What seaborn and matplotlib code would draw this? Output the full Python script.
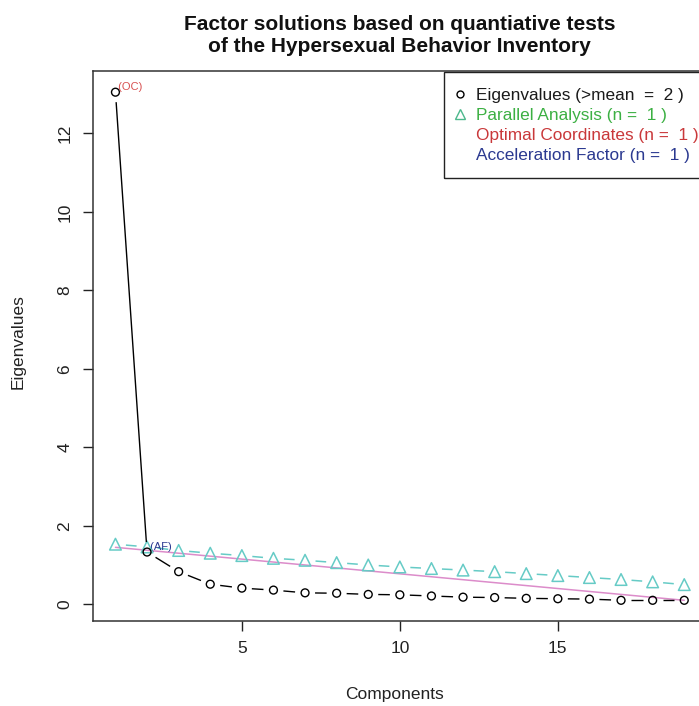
import numpy as np
import matplotlib
matplotlib.use("Agg")
import matplotlib.pyplot as plt
import seaborn as sns
from matplotlib.lines import Line2D
from matplotlib.collections import LineCollection
from matplotlib.patches import Rectangle

# ---- data ----
components = list(range(1, 20))
eigenvalues = [13.05, 1.33, 0.83, 0.51, 0.41, 0.36, 0.29, 0.28, 0.25, 0.24,
               0.21, 0.18, 0.17, 0.15, 0.14, 0.13, 0.10, 0.10, 0.10]
parallel = [1.53, 1.46, 1.37, 1.30, 1.24, 1.17, 1.12, 1.06, 1.00, 0.95,
            0.91, 0.87, 0.83, 0.78, 0.73, 0.68, 0.63, 0.57, 0.50]
oc_line_x = [1, 19]
oc_line_y = [1.45, 0.10]
x_ticks = [5, 10, 15]
y_ticks = [0, 2, 4, 6, 8, 10, 12]
legend_labels = ["Eigenvalues (>mean  =  2 )",
                 "Parallel Analysis (n =  1 )",
                 "Optimal Coordinates (n =  1 )",
                 "Acceleration Factor (n =  1 )"]
title = "Factor solutions based on quantiative tests\nof the Hypersexual Behavior Inventory"

# ---- style ----
sns.set_style("ticks")
plt.rcParams['font.family'] = ['Liberation Sans', 'DejaVu Sans']

C_EIG = "black"
C_PA = "#66cbc6"
C_PA_LEG = "#4cb88c"
C_OC = "#dc8cca"
TXT_COLORS = ["#1a1a1a", "#3cb043", "#c9383a", "#2b3990"]

W, H = 699, 706
fig = plt.figure(figsize=(W / 100, H / 100), dpi=100)
ax = fig.add_axes([92.7 / W, 85.3 / H, 614.3 / W, 549.7 / H])
ax.set_xlim(0.28, 19.72)
ax.set_ylim(-0.42, 13.59)


def gapped_segments(xs, ys, gap_px):
    pts = ax.transData.transform(np.column_stack([xs, ys]))
    inv = ax.transData.inverted()
    segs = []
    for p, q in zip(pts[:-1], pts[1:]):
        d = q - p
        L = np.hypot(*d)
        if L > 2 * gap_px:
            u = d / L
            segs.append(inv.transform(np.array([p + u * gap_px, q - u * gap_px])))
    return segs


# optimal coordinates line
sns.lineplot(x=oc_line_x, y=oc_line_y, color=C_OC, lw=1.1, ax=ax, zorder=2)

# parallel analysis (type = "b")
ax.add_collection(LineCollection(gapped_segments(components, parallel, 10.5),
                                 colors=C_PA, linewidths=1.1, zorder=3))
sns.scatterplot(x=components, y=parallel, marker="^", s=70, facecolor="none",
                edgecolor=C_PA, linewidth=1.1, ax=ax, zorder=4)

# eigenvalues (type = "b")
ax.add_collection(LineCollection(gapped_segments(components, eigenvalues, 10),
                                 colors=C_EIG, linewidths=1.0, zorder=5))
sns.scatterplot(x=components, y=eigenvalues, marker="o", s=32, facecolor="none",
                edgecolor=C_EIG, linewidth=1.0, ax=ax, zorder=6)

# annotations
ax.text(components[0], eigenvalues[0], " (OC)", color="#d85050", fontsize=8,
        ha="left", va="bottom")
ax.text(components[1], eigenvalues[1], " (AF)", color="#2b3990", fontsize=8,
        ha="left", va="bottom")

# axes styling
ax.set_xticks(x_ticks)
ax.set_yticks(y_ticks)
ax.set_xticklabels([str(v) for v in x_ticks])
ax.set_yticklabels([str(v) for v in y_ticks], rotation=90, va="center")
ax.tick_params(axis="both", direction="out", length=7.5, width=1.0,
               color="#222222", labelsize=12.5, labelcolor="#222222")
ax.tick_params(axis="x", pad=7)
ax.tick_params(axis="y", pad=7)
for s in ax.spines.values():
    s.set_visible(True)
    s.set_color("#333333")
    s.set_linewidth(1.1)

ax.set_xlabel("Components", fontsize=12.5, color="#222222", va="center")
ax.xaxis.set_label_coords(0.492, -0.135)
ax.set_ylabel("Eigenvalues", fontsize=12.5, color="#222222", va="center")
ax.yaxis.set_label_coords(-0.122, 0.507)

ax.set_title(title, fontsize=15, fontweight="bold", pad=13.5, linespacing=1.2,
             color="#111111")

# legend (frame drawn separately so it can sit flush with the plot edge)
handles = [
    Line2D([], [], marker="o", linestyle="none", markerfacecolor="none",
           markeredgecolor=C_EIG, markersize=5, markeredgewidth=1.0),
    Line2D([], [], marker="^", linestyle="none", markerfacecolor="none",
           markeredgecolor=C_PA_LEG, markersize=6.5, markeredgewidth=1.0),
    Line2D([], [], linestyle="none"),
    Line2D([], [], linestyle="none"),
]
leg = ax.legend(handles, legend_labels, loc="upper left",
                bbox_to_anchor=(443 / W, 1 - 79 / H), bbox_transform=fig.transFigure,
                borderaxespad=0, fontsize=12.4, labelspacing=0.3,
                handlelength=1.0, handletextpad=0.42, borderpad=0.5,
                frameon=False, labelcolor=TXT_COLORS)
fig.add_artist(Rectangle((444 / W, 1 - 178 / H), (712 - 444) / W, (178 - 72) / H,
                         transform=fig.transFigure, fill=False,
                         edgecolor="#222222", linewidth=1.0, zorder=10))

fig.savefig("out.png", dpi=100)
